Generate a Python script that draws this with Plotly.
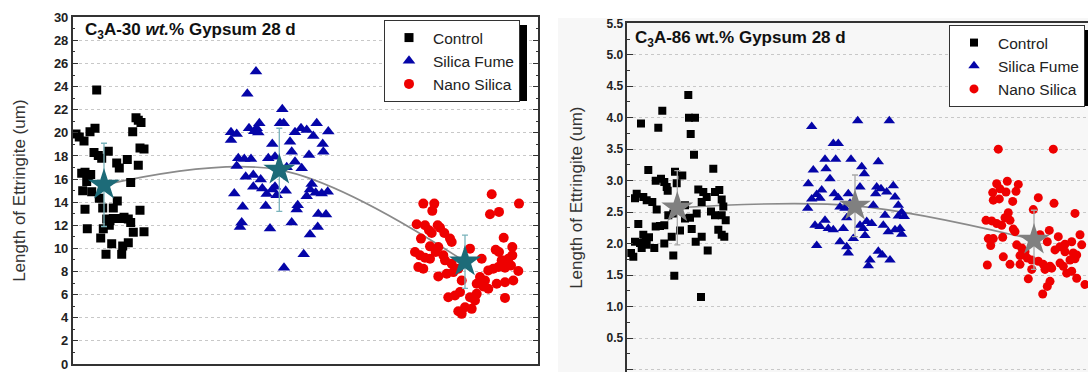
import plotly.graph_objects as go

W, H = 1088, 372

# ---------------- data: left panel (C3A-30 wt.% Gypsum 28 d) ----------------
# x = jitter position (horizontal position on the original figure), y = length (um)
l_ctrl_x = [96.7, 136, 138.3, 141, 132.7, 76, 79.3, 84, 90, 95, 94, 98.3, 101.7, 108.3, 116.7, 119.3,
            127.3, 138.3, 140, 144, 81.7, 85, 88.3, 90.7, 86.7, 82.7, 91.7, 99.3, 130.7, 85, 102.7,
            113.3, 117.3, 140, 106.7, 110, 113.3, 120, 124, 128.3, 130.7, 109.3, 103.3, 87.3, 133.3,
            144, 100.7, 111.7, 122.7, 128.3, 106, 121.7]
l_ctrl_y = [23.7, 21.3, 21.1, 20.9, 20.1, 19.9, 19.65, 19.3, 20.1, 20.4, 18.3, 18.05, 17.8, 18.4, 17.4,
            16.95, 17.7, 17.2, 18.7, 18.6, 16.5, 16.6, 16.3, 16.4, 15.8, 15.0, 14.9, 14.35, 15.7, 13.4,
            13.5, 13.5, 14.1, 13.3, 12.55, 12.4, 12.6, 12.6, 12.7, 12.55, 12.25, 12.0, 11.7, 11.7, 11.4,
            11.45, 10.9, 10.4, 10.2, 10.5, 9.5, 9.5]

l_sf_x = [256, 247.3, 282.3, 280, 283.7, 259.3, 256.7, 249, 254.3, 258.3, 231, 236.7, 231, 295, 301,
          306.7, 316.7, 328.3, 313.3, 272.3, 290, 291.7, 322.7, 323.3, 309, 238.3, 244.3, 251, 236.7,
          268.3, 275, 295, 301.7, 286.7, 245.7, 253.3, 260.7, 253.3, 262.3, 266.7, 272.3, 275, 276.7,
          285.7, 311.7, 310, 306.7, 315.7, 321.7, 327.7, 234.3, 242.7, 265.7, 297.7, 296.7, 241.7, 240,
          270, 291.7, 318.3, 326, 317.7, 310, 303.7, 284]
l_sf_y = [25.32, 23.38, 22.05, 20.83, 20.83, 20.83, 20.40, 20.40, 20.14, 20.03, 20.06, 19.91, 19.39,
          20.06, 20.40, 20.25, 20.83, 20.11, 19.73, 19.04, 19.24, 18.37, 19.04, 18.37, 18.08, 17.80,
          17.74, 17.74, 17.13, 17.80, 17.94, 17.51, 16.93, 17.02, 16.21, 16.35, 15.97, 15.34, 15.19,
          14.70, 15.10, 15.34, 14.61, 14.99, 15.57, 15.10, 14.52, 14.81, 14.76, 14.90, 14.76, 13.60,
          13.68, 13.74, 13.37, 12.25, 11.86, 11.72, 12.25, 12.97, 12.94, 11.86, 11.20, 9.49, 8.33]

l_ns_x = [491.7, 423.3, 434.3, 519, 432.3, 490, 499, 416.7, 425, 437.7, 440, 429, 431.7, 444.3, 421,
          450, 451.7, 430, 438.3, 503.7, 415, 420, 425, 430, 435.7, 443.3, 445, 451.7, 495.7, 499,
          512.3, 512.3, 508.3, 501.7, 470, 481.7, 418.3, 423.3, 438.3, 446.7, 453.3, 458.3, 461.7,
          488.3, 493.3, 498.3, 505, 511, 518.3, 480, 485, 476.7, 483.3, 488.3, 496.7, 505, 513.3,
          448.3, 455, 460, 470, 476.7, 505, 465, 471.7, 475, 461.7, 458.3]
l_ns_y = [14.69, 13.88, 13.88, 13.88, 13.25, 12.96, 13.16, 12.09, 12.0, 12.0, 11.8, 11.57, 11.34, 11.34,
          10.85, 10.85, 10.56, 10.18, 10.12, 10.93, 9.69, 9.4, 9.2, 9.11, 9.69, 9.4, 8.97, 8.68, 9.89,
          9.69, 10.12, 9.4, 9.11, 8.97, 9.98, 9.11, 8.39, 8.24, 7.58, 7.81, 7.95, 8.24, 7.23, 8.1, 8.24,
          8.39, 8.33, 8.53, 8.04, 7.52, 7.23, 6.94, 6.71, 6.51, 6.94, 7.08, 7.23, 5.78, 5.93, 6.22,
          5.78, 6.07, 5.72, 4.91, 4.77, 5.49, 4.34, 4.57]

l_mean_x = [104, 279.3, 465]
l_mean_y = [15.5, 16.8, 8.85]
l_mean_sd = [3.6, 3.6, 2.3]

# ---------------- data: right panel (C3A-86 wt.% Gypsum 28 d) ----------------
r_ctrl_x = [688.3, 662.3, 641, 658.3, 689, 695, 690.7, 694, 648.3, 713.3, 675, 682.3, 676.7, 655.7, 661,
            664.3, 666.7, 667.7, 636.7, 635, 643.3, 646.7, 652.3, 656.7, 698.3, 703.3, 706.7, 701.7,
            715, 719.3, 721.7, 723.3, 711, 715, 721.7, 725.7, 685, 668.3, 673.3, 685, 690, 696.7,
            638.3, 655.7, 660, 664.3, 680, 691.7, 718.3, 721.7, 724.3, 701.7, 695.7, 671.7, 643.3,
            645.7, 649, 635, 640, 646.7, 641.7, 654.3, 664.3, 631, 633.3, 707.7, 673.3, 674.3, 701]
r_ctrl_y = [4.36, 4.11, 3.91, 3.84, 4.0, 4.0, 3.74, 3.41, 3.17, 3.19, 3.14, 3.08, 2.96, 3.0, 3.03,
            2.98, 2.9, 2.84, 2.79, 2.72, 2.74, 2.69, 2.66, 2.54, 2.86, 2.82, 2.74, 2.66, 2.82, 2.85,
            2.7, 2.59, 2.51, 2.45, 2.45, 2.37, 2.61, 2.45, 2.48, 2.4, 2.41, 2.48, 2.31, 2.27, 2.28,
            2.29, 2.21, 2.23, 2.22, 2.14, 2.11, 2.11, 2.03, 2.11, 2.14, 2.08, 2.1, 2.03, 2.01, 1.98,
            1.93, 1.93, 2.0, 1.85, 1.79, 1.89, 1.81, 1.49, 1.15]

r_sf_x = [857.7, 889.3, 811.7, 833.3, 838.3, 825, 835.7, 851, 878.3, 813.3, 826, 861.7, 864.3, 830,
          808.3, 860, 821.7, 816.7, 811.7, 820, 834.3, 838.3, 848.3, 876.7, 881, 886.7, 893.3, 895,
          898.3, 901.7, 875.7, 807.7, 840, 845, 850, 873.3, 885, 898.3, 904.3, 815, 820, 825, 828.3,
          833.3, 843.3, 846.7, 860, 866.7, 871.7, 863.3, 883.3, 888.3, 895, 900, 901.7, 816.7, 840,
          853.3, 865, 846.7, 848.3, 878.3, 882.3, 890, 870, 868.3]
r_sf_y = [3.95, 3.95, 3.86, 3.59, 3.59, 3.34, 3.34, 3.34, 3.30, 3.17, 3.19, 3.22, 3.11, 3.03, 2.95,
          2.90, 2.85, 2.78, 2.71, 2.72, 2.79, 2.73, 2.79, 2.90, 2.87, 2.82, 2.92, 2.74, 2.61, 2.50,
          2.79, 2.56, 2.58, 2.56, 2.64, 2.61, 2.45, 2.44, 2.43, 2.29, 2.27, 2.37, 2.24, 2.22, 2.24,
          2.41, 2.29, 2.35, 2.32, 2.24, 2.29, 2.19, 2.22, 2.24, 2.15, 1.97, 2.03, 2.08, 2.13, 1.95,
          1.85, 1.88, 1.82, 1.74, 1.74, 1.65]

r_ns_x = [998.3, 1053.3, 996.7, 1007.3, 1018.3, 992.7, 1000, 1006, 1016, 993.3, 999.3, 1012.7, 1038.3,
          1054, 1033.3, 1075, 1008.3, 1005, 1010, 986, 991.7, 996.7, 1001.7, 1013.3, 1015, 1049.3,
          1058.3, 988.3, 993.3, 1002.7, 990.7, 1047.3, 1040, 1071.7, 1080, 1081.7, 1065, 1060, 1055,
          1065, 1073.3, 1076.7, 1016.7, 1021.7, 1025, 1020, 1027.3, 1021.7, 1003.3, 1010, 1020, 987.3,
          1031.7, 1038.3, 1043.3, 1050, 1060, 1063.3, 1070, 1075, 1031.7, 1045, 1051.7, 1066.7,
          1071.7, 1076.7, 1085, 1028.3, 1050, 1047.3, 1042.7]
r_ns_y = [3.5, 3.5, 2.95, 2.99, 2.94, 2.81, 2.87, 2.82, 2.83, 2.69, 2.71, 2.67, 2.73, 2.64, 2.54, 2.48,
          2.49, 2.41, 2.37, 2.37, 2.36, 2.32, 2.29, 2.23, 2.19, 2.21, 2.11, 2.08, 2.08, 2.10, 1.97,
          2.03, 2.14, 2.03, 2.14, 1.98, 1.99, 1.95, 1.90, 1.87, 1.85, 1.82, 1.98, 1.93, 1.87, 1.81,
          1.77, 1.82, 1.79, 1.67, 1.67, 1.66, 1.74, 1.72, 1.67, 1.64, 1.69, 1.64, 1.74, 1.76, 1.59,
          1.59, 1.61, 1.53, 1.56, 1.45, 1.35, 1.44, 1.40, 1.32, 1.20]

r_mean_x = [677.3, 855, 1034]
r_mean_y = [2.57, 2.60, 2.06]
r_mean_sd = [0.59, 0.49, 0.47]

series_names = ["Control", "Silica Fume", "Nano Silica"]
left_title = "<b>C<sub>3</sub>A-30 <i>wt.</i>% Gypsum 28 d</b>"
right_title = "<b>C<sub>3</sub>A-86 wt.% Gypsum 28 d</b>"
y_title = "Length of Ettringite (um)"

# ---------------- styles ----------------
BLACK = "#000000"
BLUE = "#0505a8"
RED = "#ee0000"
FONT = "Liberation Sans, Arial, sans-serif"

fig = go.Figure()

# trend lines (behind)
fig.add_trace(go.Scatter(x=l_mean_x, y=l_mean_y, mode="lines", line=dict(color="#8a8a8a", width=1.6, shape="spline"),
                         showlegend=False, hoverinfo="skip", xaxis="x", yaxis="y"))
fig.add_trace(go.Scatter(x=r_mean_x, y=r_mean_y, mode="lines", line=dict(color="#8a8a8a", width=1.6, shape="spline"),
                         showlegend=False, hoverinfo="skip", xaxis="x2", yaxis="y2"))

# left points
fig.add_trace(go.Scatter(x=l_ctrl_x, y=l_ctrl_y, mode="markers", name=series_names[0],
                         marker=dict(symbol="square", size=9, color=BLACK), xaxis="x", yaxis="y", legend="legend"))
fig.add_trace(go.Scatter(x=l_sf_x, y=l_sf_y, mode="markers", name=series_names[1],
                         marker=dict(symbol="triangle-up", size=11, color=BLUE), xaxis="x", yaxis="y", legend="legend"))
fig.add_trace(go.Scatter(x=l_ns_x, y=l_ns_y, mode="markers", name=series_names[2],
                         marker=dict(symbol="circle", size=10, color=RED), xaxis="x", yaxis="y", legend="legend"))
# right points
fig.add_trace(go.Scatter(x=r_ctrl_x, y=r_ctrl_y, mode="markers", name=series_names[0],
                         marker=dict(symbol="square", size=8, color=BLACK), xaxis="x2", yaxis="y2", legend="legend2"))
fig.add_trace(go.Scatter(x=r_sf_x, y=r_sf_y, mode="markers", name=series_names[1],
                         marker=dict(symbol="triangle-up", size=10, color=BLUE), xaxis="x2", yaxis="y2", legend="legend2"))
fig.add_trace(go.Scatter(x=r_ns_x, y=r_ns_y, mode="markers", name=series_names[2],
                         marker=dict(symbol="circle", size=9, color=RED), xaxis="x2", yaxis="y2", legend="legend2"))

# means with error bars
fig.add_trace(go.Scatter(x=l_mean_x, y=l_mean_y, mode="markers", showlegend=False,
                         marker=dict(symbol="star", size=24, color="#1d6b78", line=dict(width=0)),
                         error_y=dict(type="data", array=l_mean_sd, color="#7ab3bb", thickness=1.3, width=3),
                         xaxis="x", yaxis="y"))
fig.add_trace(go.Scatter(x=r_mean_x, y=r_mean_y, mode="markers", showlegend=False,
                         marker=dict(symbol="star", size=24, color="#808080", line=dict(width=0)),
                         error_y=dict(type="data", array=r_mean_sd, color="#a8a8a8", thickness=1.3, width=3),
                         xaxis="x2", yaxis="y2"))

axis_common = dict(showline=True, linecolor="#333333", linewidth=1.5, zeroline=False, automargin=False)

LEG_FONT = 15.5

fig.update_layout(
    width=W, height=H,
    margin=dict(l=0, r=0, t=0, b=0, pad=0, autoexpand=False),
    paper_bgcolor="white", plot_bgcolor="rgba(0,0,0,0)",
    font=dict(family=FONT, color="#222222"),
    xaxis=dict(domain=[72.7 / W, 538.3 / W], range=[72.7, 538.3], showticklabels=False, showgrid=False,
               mirror=True, ticks="", anchor="y", **axis_common),
    yaxis=dict(domain=[(H - 364) / H, (H - 17.3) / H], range=[0, 30], dtick=2, tick0=0,
               ticks="inside", ticklen=6, tickwidth=1.2, tickcolor="#333333", mirror="ticks",
               tickfont=dict(size=13, family=FONT, color="#222222", weight="bold"),
               showgrid=True, gridcolor="#c8c8c8", griddash="dot", gridwidth=1,
               minor=dict(dtick=1, ticks="inside", ticklen=3, tickcolor="#333333", showgrid=False),
               title=dict(text=y_title, font=dict(size=17, family=FONT, color="#333333"), standoff=24),
               anchor="x", **axis_common),
    xaxis2=dict(domain=[627.3 / W, 1.0], range=[627.3, 1088], showticklabels=False, showgrid=False,
                mirror=True, ticks="", anchor="y2", **axis_common),
    yaxis2=dict(domain=[0, (H - 23.3) / H], range=[-0.04, 5.5], dtick=0.5, tick0=0, tickformat=".1f",
                ticks="inside", ticklen=6, tickwidth=1.2, tickcolor="#333333", mirror=False,
                tickfont=dict(size=12, family=FONT, color="#222222", weight="bold"),
                showgrid=True, gridcolor="#c8c8c8", griddash="dot", gridwidth=1,
                minor=dict(dtick=0.25, ticks="inside", ticklen=3, tickcolor="#333333", showgrid=False),
                title=dict(text=y_title, font=dict(size=17, family=FONT, color="#333333"), standoff=20),
                anchor="x2", **axis_common),
    legend=dict(x=384 / W, y=1 - 20 / H, xanchor="left", yanchor="top", bgcolor="white",
                bordercolor="#333333", borderwidth=1, font=dict(size=LEG_FONT, family=FONT, color="#222222"),
                tracegroupgap=0, itemwidth=38),
    legend2=dict(x=949 / W, y=1 - 25 / H, xanchor="left", yanchor="top", bgcolor="white",
                 bordercolor="#333333", borderwidth=1, font=dict(size=LEG_FONT, family=FONT, color="#222222"),
                 tracegroupgap=0, itemwidth=38),
    shapes=[
        # light grey background of the right-hand figure
        dict(type="rect", xref="paper", yref="paper", x0=558 / W, x1=1.0, y0=0, y1=1 - 18 / H,
             fillcolor="#f7f7f7", line=dict(width=0), layer="below"),
        # legend drop shadows
        dict(type="rect", xref="paper", yref="paper", x0=389 / W, x1=527 / W, y0=1 - 101 / H, y1=1 - 25 / H,
             fillcolor="black", line=dict(width=0), layer="above"),
        dict(type="rect", xref="paper", yref="paper", x0=954 / W, x1=1.0, y0=1 - 106 / H, y1=1 - 30 / H,
             fillcolor="black", line=dict(width=0), layer="above"),
    ],
    annotations=[
        dict(text=left_title, xref="paper", yref="paper", x=83 / W, y=1 - 31 / H, xanchor="left",
             yanchor="middle", showarrow=False, font=dict(size=17, family=FONT, color="#111111")),
        dict(text=right_title, xref="paper", yref="paper", x=633 / W, y=1 - 38.5 / H, xanchor="left",
             yanchor="middle", showarrow=False, font=dict(size=17, family=FONT, color="#111111")),
    ],
)

fig.write_html("out.html", config={"displayModeBar": False},
               post_script="document.body.style.margin='0';document.body.style.overflow='hidden';")
